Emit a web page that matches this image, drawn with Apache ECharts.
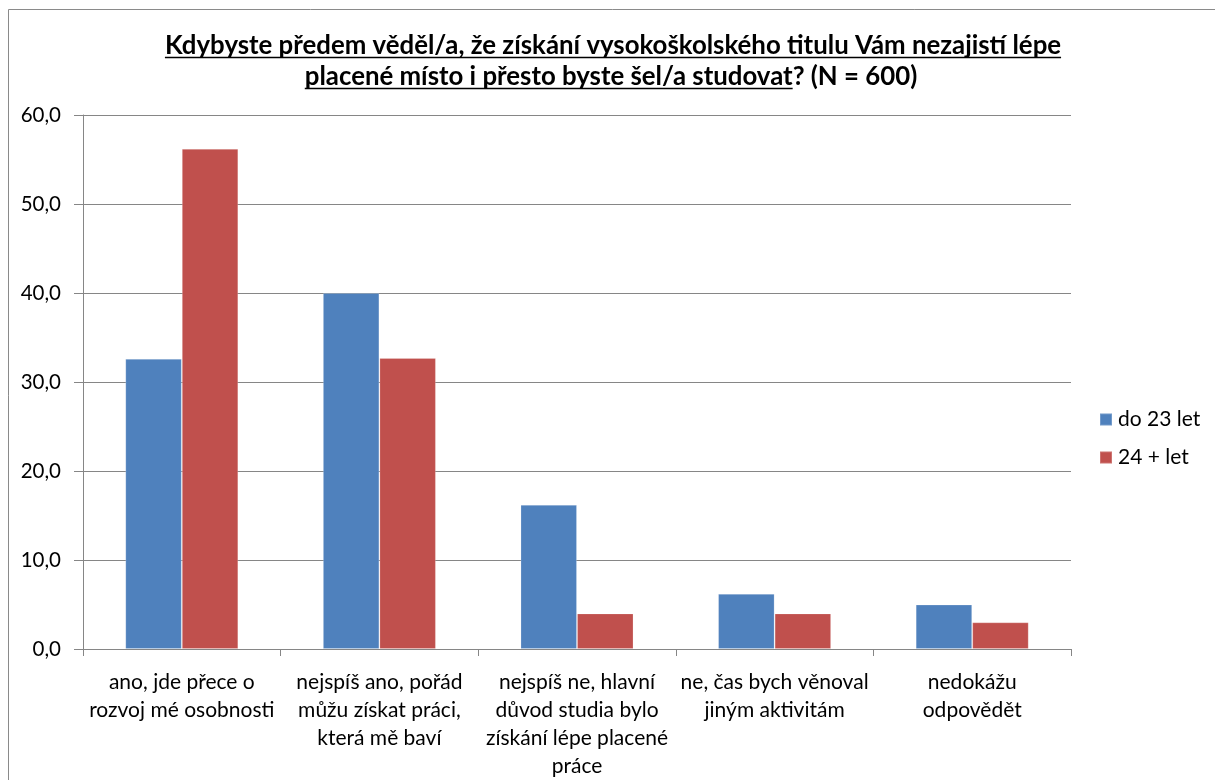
<!DOCTYPE html>
<html>
<head>
<meta charset="utf-8">
<script src="https://cdn.jsdelivr.net/npm/echarts@6/dist/echarts.min.js"></script>
<style>
html,body{margin:0;padding:0;background:#fff;}
#chart{width:1215px;height:780px;}
</style>
</head>
<body>
<div id="chart"></div>
<script>
const categories = [
  "ano, jde přece o\nrozvoj mé osobnosti",
  "nejspíš ano, pořád\nmůžu získat práci,\nkterá mě baví",
  "nejspíš ne, hlavní\ndůvod studia bylo\nzískání lépe placené\npráce",
  "ne, čas bych věnoval\njiným aktivitám",
  "nedokážu\nodpovědět"
];
const seriesNames = ["do 23 let", "24 + let"];
const valuesDo23 = [32.6, 40.0, 16.2, 6.2, 5.0];
const values24 = [56.2, 32.7, 4.0, 4.0, 3.0];
const yTicks = [0, 10, 20, 30, 40, 50, 60];
const titleLine1 = "Kdybyste předem věděl/a, že získání vysokoškolského titulu Vám nezajistí lépe";
const titleLine2a = "placené místo i přesto byste šel/a studovat";
const titleLine2b = "? (N = 600)";

const FONT = "Lato, 'Open Sans', sans-serif";
const chart = echarts.init(document.getElementById('chart'), null, {renderer: 'canvas'});

// measure title text
const ctx = document.createElement('canvas').getContext('2d');
function measure(t, size) { ctx.font = "bold " + size + "px " + FONT; return ctx.measureText(t).width; }
let tSize = 22;
tSize = +(tSize * 897 / measure(titleLine1, tSize)).toFixed(1);
const w1 = measure(titleLine1, tSize);
const w2a = measure(titleLine2a, tSize);
const w2b = measure(titleLine2b, tSize);
const cx = 613;
const x1 = cx - w1 / 2;
const x2 = 611 - (w2a + w2b) / 2;
const y1 = 46, y2 = 77;
const tStyle = {fontFamily: FONT, fontWeight: 'bold', fontSize: tSize, fill: '#000', textVerticalAlign: 'middle', verticalAlign: 'middle'};

const option = {
  backgroundColor: '#fff',
  animation: false,
  color: ['#4F81BD', '#C0504D'],
  graphic: [
    {type: 'rect', shape: {x: 8.5, y: 9.5, width: 1400, height: 1000}, style: {fill: 'none', stroke: '#8a8a8a', lineWidth: 1}, silent: true},
    {type: 'text', x: x1, y: y1, style: Object.assign({text: titleLine1, textAlign: 'left', align: 'left'}, tStyle)},
    {type: 'line', shape: {x1: x1, y1: 57.5, x2: x1 + w1, y2: 57.5}, style: {stroke: '#000', lineWidth: 1.5}},
    {type: 'text', x: x2, y: y2, style: Object.assign({text: titleLine2a, textAlign: 'left', align: 'left'}, tStyle)},
    {type: 'text', x: x2 + w2a, y: y2, style: Object.assign({text: titleLine2b, textAlign: 'left', align: 'left'}, tStyle)},
    {type: 'line', shape: {x1: x2, y1: 88.5, x2: x2 + w2a, y2: 88.5}, style: {stroke: '#000', lineWidth: 1.5}}
  ],
  legend: {
    orient: 'vertical',
    left: 1099,
    top: 409,
    padding: 0,
    itemWidth: 12,
    itemHeight: 12,
    itemGap: 17,
    icon: 'rect',
    data: seriesNames,
    textStyle: {fontFamily: FONT, fontSize: 21, color: '#000', padding: [0, 0, 0, 1]}
  },
  grid: {left: 83, right: 144, top: 115, bottom: 129, containLabel: false},
  xAxis: {
    type: 'category',
    data: categories,
    axisLine: {show: true, lineStyle: {color: '#868686', width: 1}},
    axisTick: {show: true, length: 7, alignWithLabel: false, lineStyle: {color: '#868686'}},
    axisLabel: {interval: 0, margin: 19, fontFamily: FONT, fontSize: 21, color: '#000', lineHeight: 28, align: 'center'},
    splitLine: {show: false}
  },
  yAxis: {
    type: 'value',
    min: yTicks[0],
    max: yTicks[yTicks.length - 1],
    interval: yTicks[1] - yTicks[0],
    axisLine: {show: true, lineStyle: {color: '#868686', width: 1}},
    axisTick: {show: true, length: 9, lineStyle: {color: '#868686'}},
    axisLabel: {margin: 22, fontFamily: FONT, fontSize: 20.5, color: '#000',
      formatter: v => v.toFixed(1).replace('.', ',')},
    splitLine: {show: true, lineStyle: {color: '#868686', width: 1}}
  },
  series: [
    {name: seriesNames[0], type: 'bar', data: valuesDo23, barGap: '0%', barCategoryGap: '42.8%',
     itemStyle: {color: '#4F81BD', borderColor: 'rgba(255,255,255,0.2)', borderWidth: 1}},
    {name: seriesNames[1], type: 'bar', data: values24, barGap: '0%', barCategoryGap: '42.8%',
     itemStyle: {color: '#C0504D', borderColor: 'rgba(255,255,255,0.2)', borderWidth: 1}}
  ]
};
chart.setOption(option);
</script>
</body>
</html>
